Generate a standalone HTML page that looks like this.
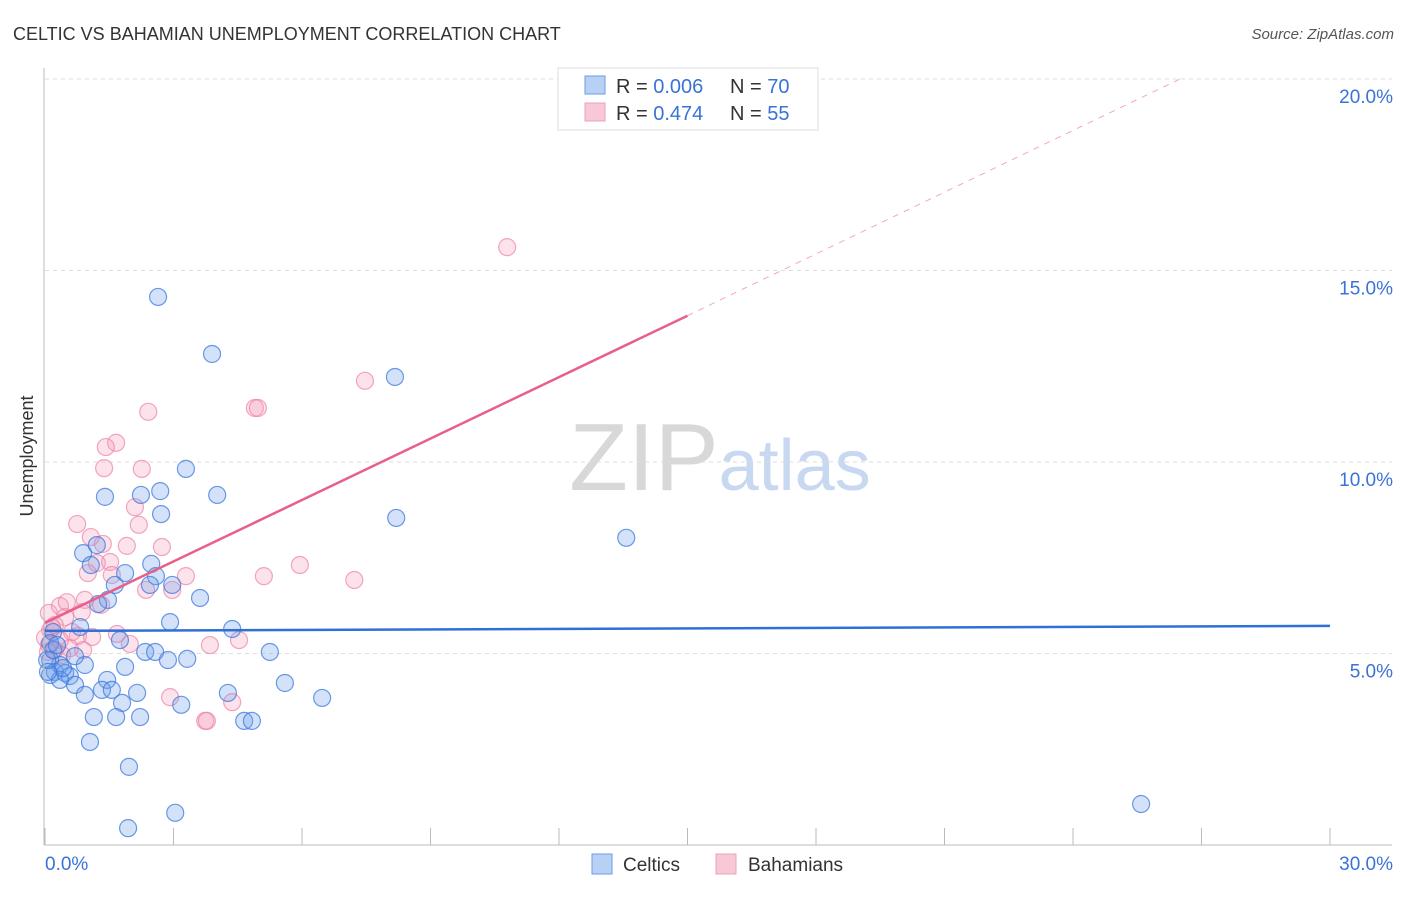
<!DOCTYPE html>
<html><head><meta charset="utf-8"><style>
body{margin:0;background:#fff;font-family:"Liberation Sans",sans-serif;}
svg text{font-family:"Liberation Sans",sans-serif;}
</style></head><body>
<svg id="chart" width="1406" height="892" xmlns="http://www.w3.org/2000/svg">
<text x="13" y="40" font-size="18" fill="#333">CELTIC VS BAHAMIAN UNEMPLOYMENT CORRELATION CHART</text>
<text x="1394" y="39" font-size="15" fill="#555" text-anchor="end" font-style="italic">Source: ZipAtlas.com</text>
<text x="720" y="490" font-size="96" text-anchor="middle" fill="#ddd" font-family="Liberation Serif"><tspan fill="#d8d8d8">ZIP</tspan><tspan fill="#c7d8f0" font-family="Liberation Sans" font-size="72">atlas</tspan></text>
<text transform="translate(33,456) rotate(-90)" font-size="18" fill="#333" text-anchor="middle">Unemployment</text>
<g id="grid"></g>
<g id="trend"></g>
<g id="pts"></g>
<g id="axes"></g>
<g>
<rect x="558" y="68" width="260" height="62" fill="#fff" stroke="#ddd"/>
<rect x="585" y="76" width="20" height="18" fill="#b9d0f5" stroke="#6a9be6"/>
<rect x="585" y="103" width="20" height="18" fill="#f9c8d6" stroke="#f0a0b8"/>
<text x="616" y="93" font-size="20" fill="#333">R = <tspan fill="#3a72d8">0.006</tspan><tspan x="730">N = </tspan><tspan fill="#3a72d8">70</tspan></text>
<text x="616" y="120" font-size="20" fill="#333">R = <tspan fill="#3a72d8"> 0.474</tspan><tspan x="730">N = </tspan><tspan fill="#3a72d8">55</tspan></text>
</g>
<g>
<rect x="592" y="854" width="20" height="20" fill="#b9d0f5" stroke="#6a9be6"/>
<text x="623" y="871" font-size="19" fill="#333">Celtics</text>
<rect x="716" y="854" width="20" height="20" fill="#f9c8d6" stroke="#f0a0b8"/>
<text x="748" y="871" font-size="19" fill="#333">Bahamians</text>
</g>
</svg>
<script>
const NS="http://www.w3.org/2000/svg";
const xTicks=[0,3,6,9,12,15,18,21,24,27,30];
const yTicks=[5,10,15,20];
const yTickLabels=["5.0%","10.0%","15.0%","20.0%"];
const xLabels=["0.0%","30.0%"];
const celticsX=[2.64,3.90,8.17,3.29,1.40,2.24,2.69,4.02,2.71,8.20,13.57,0.89,1.21,2.48,1.07,1.87,2.59,1.63,2.45,2.97,3.62,1.47,1.24,2.92,4.37,0.82,0.19,0.12,1.75,2.34,2.57,2.87,3.32,5.25,0.12,0.35,0.93,1.87,0.70,0.23,0.47,0.58,0.12,0.35,0.70,1.45,1.33,1.56,2.15,0.93,4.27,5.60,6.47,1.80,3.18,1.14,1.66,2.22,4.65,4.83,1.05,1.96,3.04,1.94,25.59,0.05,0.19,0.42,0.07,0.28];
const celticsY=[14.31,12.82,12.22,9.82,9.09,9.14,9.24,9.14,8.64,8.54,8.02,7.62,7.83,7.34,7.31,7.10,7.02,6.79,6.79,6.79,6.45,6.40,6.29,5.82,5.64,5.69,5.56,5.27,5.35,5.04,5.04,4.83,4.86,5.04,4.83,4.70,4.70,4.65,4.93,4.52,4.49,4.41,4.44,4.31,4.18,4.31,4.05,4.05,3.97,3.92,3.97,4.23,3.84,3.71,3.66,3.34,3.34,3.34,3.24,3.24,2.69,2.04,0.84,0.44,1.07,4.83,5.09,4.62,4.52,5.22];
const bahamiansX=[10.79,7.47,2.41,4.90,4.97,1.66,1.42,1.38,2.26,0.75,2.10,2.19,1.07,1.35,1.91,2.73,1.21,1.00,1.52,1.56,3.29,5.11,5.95,7.22,2.36,2.97,0.09,0.35,0.51,0.93,0.47,0.86,1.31,0.12,0.23,0.77,1.10,0.63,1.68,1.98,0.09,0.23,0.58,0.89,3.85,4.53,2.92,4.37,3.74,3.78,0.07,0.35,0.00,0.40,0.16];
const bahamiansY=[15.61,12.12,11.31,11.41,11.41,10.50,10.39,9.84,9.82,8.38,8.82,8.36,8.04,7.86,7.81,7.78,7.36,7.10,7.39,7.05,7.02,7.02,7.31,6.92,6.66,6.66,6.06,6.24,6.34,6.40,5.95,6.08,6.27,5.61,5.74,5.46,5.43,5.56,5.51,5.25,5.22,5.09,5.14,5.09,5.22,5.35,3.86,3.73,3.24,3.24,5.04,5.35,5.41,4.96,5.67];
const celticsTrend=[[0,5.59],[30,5.72]];
const bahamiansTrendSolid=[[0,5.80],[15,13.82]];
const bahamiansTrendDash=[[15,13.82],[26.5,20.0]];
const X=v=>45+v*(1285/30);
const Y=v=>845-v*(766/20);
function mk(tag,attrs,parent){const e=document.createElementNS(NS,tag);for(const k in attrs)e.setAttribute(k,attrs[k]);parent.appendChild(e);return e;}
const grid=document.getElementById('grid'),axes=document.getElementById('axes'),pts=document.getElementById('pts'),trend=document.getElementById('trend');
yTicks.forEach((t,i)=>{
 const l=mk('line',{x1:45,x2:1392,y1:Y(t),y2:Y(t),stroke:'#ddd','stroke-dasharray':'4,4'},grid);
 
 
 const tx=mk('text',{x:1393,y:Y(t)+24,'font-size':19,fill:'#3a72d8','text-anchor':'end'},axes);
 tx.textContent=yTickLabels[i];
 
 
});
const ya=mk('line',{x1:44,x2:44,y1:68,y2:845,stroke:'#bbb'},axes);


const xa=mk('line',{x1:44,x2:1392,y1:845,y2:845,stroke:'#bbb'},axes);


xTicks.forEach(t=>{
 const l=mk('line',{x1:X(t),x2:X(t),y1:828,y2:845,stroke:'#bbb'},axes);
 
 
});
[[0,'start'],[30,'end']].forEach((p,i)=>{
 const tx=mk('text',{x:i?1393:45,y:870,'font-size':19,fill:'#3a72d8','text-anchor':p[1]},axes);
 tx.textContent=xLabels[i];
 
 
});
function series(xs,ys,fill,stroke,name){
 xs.forEach((x,i)=>{
  const c=mk('circle',{cx:X(x),cy:Y(ys[i]),r:8.5,fill:fill,stroke:stroke,'stroke-width':1.2},pts);
  
  
 });
}
series(bahamiansX,bahamiansY,'rgba(244,160,188,0.3)','rgba(236,130,165,0.7)','bahamians-point');
series(celticsX,celticsY,'rgba(110,160,235,0.3)','rgba(60,120,220,0.75)','celtics-point');
function tl(p,stroke,w,dash,name){
 const l=mk('line',{x1:X(p[0][0]),y1:Y(p[0][1]),x2:X(p[1][0]),y2:Y(p[1][1]),stroke:stroke,'stroke-width':w},trend);
 if(dash)l.setAttribute('stroke-dasharray',dash);
 
 
}
tl(celticsTrend,'#2f6fd6',2.5,null,'celtics-trend-line');
tl(bahamiansTrendSolid,'#e8608a',2.5,null,'bahamians-trend-line');
tl(bahamiansTrendDash,'#f0a8bf',1,'6,6','bahamians-trend-extension');
document.getElementById('chart').appendChild(trend);
</script>
</body></html>
